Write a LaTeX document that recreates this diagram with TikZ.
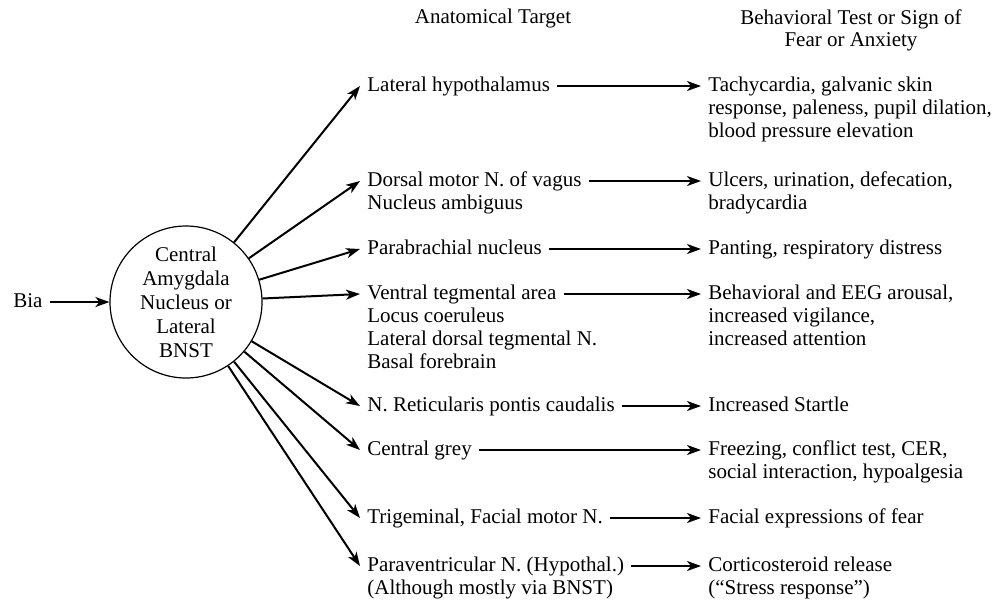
\documentclass[tikz,border=0pt]{standalone}
\usepackage{fontspec}
\setmainfont{Liberation Serif}
\usepackage{tikz}
\usetikzlibrary{arrows.meta,calc,positioning}
\tikzset{
  nucleo/.style={
    circle,
    draw=black,
    line width=.6pt,
    minimum size=76pt,
    inner sep=0pt,
    align=center,
    font=\fontsize{10.5pt}{12pt}\selectfont
  },
  blanco/.style={
    anchor=base west,
    inner sep=3.5pt,
    text height=7.5pt,
    text depth=2.5pt,
    font=\fontsize{10.5pt}{11.5pt}\selectfont
  },
  resto/.style={
    anchor=base west,
    inner sep=3.5pt,
    align=left,
    font=\fontsize{10.5pt}{11.5pt}\selectfont
  },
  signo/.style={
    anchor=base west,
    inner sep=3.5pt,
    align=left,
    font=\fontsize{10.5pt}{11.5pt}\selectfont
  },
  titulo/.style={
    anchor=base,
    inner sep=0pt,
    align=center,
    font=\fontsize{10.5pt}{11pt}\selectfont
  },
  arrow/.style={
    -{Stealth[length=7pt,width=5pt,inset=2pt]},
    line width=1pt
  }
}
\begin{document}
\begin{tikzpicture}[x=.5pt,y=-.5pt]
\useasboundingbox (0,0) rectangle (997,602);
% encabezados (nodos de varias lineas: base = ultima linea)
\node[titulo] (hA) at (493,23) {Anatomical Target};
\node[titulo] (hB) at (851,46) {Behavioral Test or Sign of\\Fear or Anxiety};
% nucleo central y entrada
\node[nucleo] (amig) at (186,302) {Central\\Amygdala\\Nucleus or\\Lateral\\BNST};
\node[blanco] (bia) at (6,307) {Bia};
% blancos anatomicos
\node[blanco] (l1) at (360,91) {Lateral hypothalamus};
\node[blanco] (l2) at (360,186) {Dorsal motor N. of vagus};
\node[resto] (l2b) at ([yshift=-11.5pt]l2.base west) {Nucleus ambiguus};
\node[blanco] (l3) at (360,254) {Parabrachial nucleus};
\node[blanco] (l4) at (360,299) {Ventral tegmental area};
\node[resto] (l4b) at ([yshift=-34.5pt]l4.base west) {Locus coeruleus\\Lateral dorsal tegmental N.\\Basal forebrain};
\node[blanco] (l5) at (360,411) {N. Reticularis pontis caudalis};
\node[blanco] (l6) at (360,455) {Central grey};
\node[blanco] (l7) at (360,523) {Trigeminal, Facial motor N.};
\node[blanco] (l8) at (360,571) {Paraventricular N. (Hypothal.)};
\node[resto] (l8b) at ([yshift=-11.5pt]l8.base west) {(Although mostly via BNST)};
% signos de miedo
\node[signo] (r1) at (701,137) {Tachycardia, galvanic skin\\response, paleness, pupil dilation,\\blood pressure elevation};
\node[signo] (r2) at (701,209) {Ulcers, urination, defecation,\\bradycardia};
\node[signo] (r3) at (701,254) {Panting, respiratory distress};
\node[signo] (r4) at (701,345) {Behavioral and EEG arousal,\\increased vigilance,\\increased attention};
\node[signo] (r5) at (701,411) {Increased Startle};
\node[signo] (r6) at (701,478) {Freezing, conflict test, CER,\\social interaction, hypoalgesia};
\node[signo] (r7) at (701,523) {Facial expressions of fear};
\node[signo] (r8) at (701,594) {Corticosteroid release\\(“Stress response”)};
% flechas
\draw[arrow] (bia) -- (amig);
\foreach \i in {1,...,8}{
  \draw[arrow] (amig) -- (l\i.west);
  \draw[arrow] (l\i.east) -- (l\i.east -| r\i.west);
}
\end{tikzpicture}
\end{document}
